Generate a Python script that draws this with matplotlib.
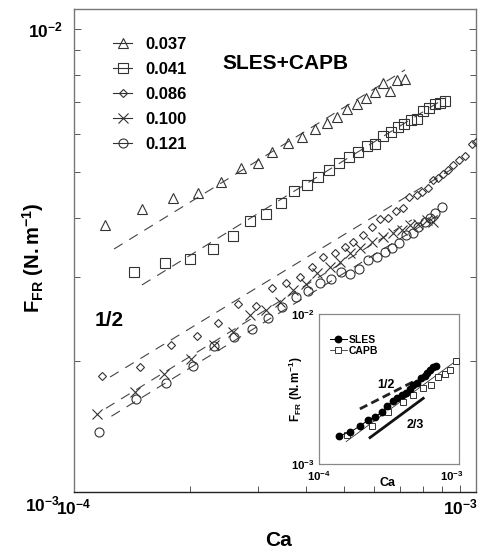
import matplotlib
matplotlib.use('Agg')
import matplotlib.pyplot as plt
from matplotlib.lines import Line2D
import matplotlib.transforms as mtrans

plt.rcParams['font.family'] = ['Liberation Sans', 'DejaVu Sans']
plt.rcParams['font.weight'] = 'bold'
plt.rcParams['mathtext.fontset'] = 'custom'
plt.rcParams['mathtext.rm'] = 'Liberation Sans:bold'
plt.rcParams['mathtext.bf'] = 'Liberation Sans:bold'
plt.rcParams['mathtext.it'] = 'Liberation Sans:bold'
plt.rcParams['mathtext.sf'] = 'Liberation Sans:bold'

# ---------------- data (main plot) ----------------
conc_labels = ['0.037', '0.041', '0.086', '0.100', '0.121']

ca_037 = [1.20e-4, 1.50e-4, 1.805e-4, 2.095e-4, 2.40e-4, 2.71e-4, 3.00e-4, 3.26e-4, 3.59e-4,
          3.90e-4, 4.21e-4, 4.52e-4, 4.80e-4, 5.10e-4, 5.41e-4, 5.71e-4, 6.02e-4, 6.32e-4,
          6.59e-4, 6.87e-4, 7.20e-4]
f_037 = [3.87e-3, 4.18e-3, 4.41e-3, 4.52e-3, 4.76e-3, 5.10e-3, 5.22e-3, 5.51e-3, 5.75e-3,
         5.93e-3, 6.16e-3, 6.34e-3, 6.53e-3, 6.79e-3, 6.95e-3, 7.15e-3, 7.37e-3, 7.70e-3,
         7.40e-3, 7.81e-3, 7.85e-3]

ca_041 = [1.43e-4, 1.72e-4, 2.00e-4, 2.29e-4, 2.58e-4, 2.86e-4, 3.14e-4, 3.44e-4, 3.72e-4,
          4.01e-4, 4.29e-4, 4.58e-4, 4.86e-4, 5.16e-4, 5.44e-4, 5.74e-4, 6.02e-4, 6.32e-4,
          6.63e-4, 6.91e-4, 7.16e-4, 7.47e-4, 7.74e-4, 8.02e-4, 8.31e-4, 8.61e-4, 8.88e-4,
          9.15e-4]
f_041 = [3.08e-3, 3.22e-3, 3.28e-3, 3.44e-3, 3.67e-3, 3.94e-3, 4.08e-3, 4.30e-3, 4.56e-3,
         4.69e-3, 4.88e-3, 5.05e-3, 5.22e-3, 5.38e-3, 5.51e-3, 5.67e-3, 5.73e-3, 5.95e-3,
         6.07e-3, 6.22e-3, 6.31e-3, 6.43e-3, 6.46e-3, 6.72e-3, 6.82e-3, 6.95e-3, 6.99e-3,
         7.05e-3]

ca_086 = [1.18e-4, 1.48e-4, 1.78e-4, 2.08e-4, 2.36e-4, 2.66e-4, 2.96e-4, 3.26e-4, 3.54e-4,
          3.85e-4, 4.14e-4, 4.42e-4, 4.75e-4, 5.04e-4, 5.28e-4, 5.61e-4, 5.92e-4, 6.20e-4,
          6.51e-4, 6.83e-4, 7.12e-4, 7.38e-4, 7.74e-4, 7.97e-4, 8.26e-4, 8.51e-4, 8.77e-4,
          9.03e-4, 9.31e-4, 9.59e-4, 9.94e-4, 1.03e-3, 1.074e-3, 1.10e-3]
f_086 = [1.86e-3, 1.94e-3, 2.16e-3, 2.26e-3, 2.40e-3, 2.64e-3, 2.61e-3, 2.85e-3, 2.92e-3,
         3.01e-3, 3.15e-3, 3.31e-3, 3.38e-3, 3.48e-3, 3.56e-3, 3.68e-3, 3.83e-3, 3.98e-3,
         4.00e-3, 4.14e-3, 4.20e-3, 4.43e-3, 4.47e-3, 4.54e-3, 4.63e-3, 4.81e-3, 4.86e-3,
         4.95e-3, 5.05e-3, 5.17e-3, 5.30e-3, 5.40e-3, 5.73e-3, 5.78e-3]

ca_100 = [1.147e-4, 1.44e-4, 1.71e-4, 2.01e-4, 2.31e-4, 2.58e-4, 2.86e-4, 3.14e-4, 3.42e-4,
          3.69e-4, 3.99e-4, 4.26e-4, 4.60e-4, 4.89e-4, 5.19e-4, 5.51e-4, 5.92e-4, 6.32e-4,
          6.71e-4, 7.07e-4, 7.42e-4, 7.78e-4, 8.21e-4, 8.51e-4]
f_100 = [1.55e-3, 1.72e-3, 1.88e-3, 2.02e-3, 2.16e-3, 2.30e-3, 2.50e-3, 2.56e-3, 2.66e-3,
         2.82e-3, 2.90e-3, 3.06e-3, 3.15e-3, 3.23e-3, 3.38e-3, 3.46e-3, 3.56e-3, 3.65e-3,
         3.72e-3, 3.77e-3, 3.87e-3, 3.89e-3, 3.96e-3, 3.92e-3]

ca_121 = [1.16e-4, 1.45e-4, 1.73e-4, 2.03e-4, 2.31e-4, 2.60e-4, 2.89e-4, 3.18e-4, 3.46e-4,
          3.76e-4, 4.04e-4, 4.34e-4, 4.63e-4, 4.92e-4, 5.19e-4, 5.47e-4, 5.78e-4, 6.10e-4,
          6.39e-4, 6.67e-4, 6.95e-4, 7.24e-4, 7.55e-4, 7.78e-4, 8.12e-4, 8.36e-4, 8.61e-4,
          8.98e-4]
f_121 = [1.42e-3, 1.66e-3, 1.80e-3, 1.95e-3, 2.15e-3, 2.25e-3, 2.34e-3, 2.46e-3, 2.60e-3,
         2.73e-3, 2.80e-3, 2.92e-3, 2.98e-3, 3.08e-3, 3.05e-3, 3.12e-3, 3.26e-3, 3.31e-3,
         3.39e-3, 3.46e-3, 3.54e-3, 3.68e-3, 3.72e-3, 3.83e-3, 3.92e-3, 4.00e-3, 4.10e-3,
         4.22e-3]

# power-law (slope 1/2) fit lines: end points
fit_ca = [[1.27e-4, 7.2e-4], [1.50e-4, 9.2e-4], [1.24e-4, 1.0e-3],
          [1.21e-4, 7.5e-4], [1.25e-4, 9.0e-4]]
fit_f = [[3.44e-3, 8.19e-3], [2.89e-3, 7.16e-3], [1.85e-3, 5.19e-3],
         [1.59e-3, 3.96e-3], [1.53e-3, 4.10e-3]]

# ---------------- data (inset) ----------------
inset_labels = ['SLES', 'CAPB']
sles_ca = [1.41e-4, 1.71e-4, 2.03e-4, 2.34e-4, 2.64e-4, 2.98e-4, 3.25e-4, 3.60e-4, 3.86e-4,
           4.21e-4, 4.51e-4, 4.83e-4, 5.09e-4, 5.46e-4, 5.85e-4, 6.27e-4, 6.49e-4, 6.83e-4,
           7.20e-4, 7.58e-4]
sles_f = [1.54e-3, 1.63e-3, 1.79e-3, 1.96e-3, 2.06e-3, 2.22e-3, 2.44e-3, 2.63e-3, 2.75e-3,
          2.88e-3, 2.97e-3, 3.16e-3, 3.36e-3, 3.47e-3, 3.74e-3, 3.86e-3, 4.04e-3, 4.24e-3,
          4.43e-3, 4.50e-3]
capb_ca = [1.62e-4, 2.50e-4, 3.30e-4, 4.28e-4, 5.09e-4, 6.05e-4, 6.95e-4, 7.85e-4, 8.86e-4,
           9.66e-4, 1.07e-3]
capb_f = [1.56e-3, 1.79e-3, 2.22e-3, 2.59e-3, 2.88e-3, 3.21e-3, 3.36e-3, 3.80e-3, 3.98e-3,
          4.24e-3, 4.86e-3]
capb_fit_ca = [1.60e-4, 1.07e-3]
capb_fit_f = [1.41e-3, 4.86e-3]
slope_half_ca = [2.03e-4, 5.43e-4]
slope_half_f = [2.33e-3, 3.63e-3]
slope_23_ca = [2.42e-4, 6.08e-4]
slope_23_f = [1.50e-3, 2.74e-3]

# ---------------- figure ----------------
W, H = 478, 548
fig = plt.figure(figsize=(W / 100, H / 100), dpi=100)
ax = fig.add_axes([74 / W, (H - 492) / H, 402 / W, 483 / H])
ax.set_xscale('log')
ax.set_yscale('log')
ax.set_xlim(1e-4, 1.10e-3)
ax.set_ylim(1.06e-3, 1.10e-2)

mk_col = '#333333'
markers = ['^', 's', 'D', 'x', 'o']
msizes = [7.2, 6.5, 4.3, 6.8, 6.5]
series_ca = [ca_037, ca_041, ca_086, ca_100, ca_121]
series_f = [f_037, f_041, f_086, f_100, f_121]

for i in range(5):
    ax.plot(fit_ca[i], fit_f[i], color='#444444', lw=0.8, dashes=(9, 7), zorder=2)
    ax.plot(series_ca[i], series_f[i], linestyle='none', marker=markers[i], ms=msizes[i],
            mfc='none', mec=mk_col, mew=0.8, zorder=3)

for side in ['left', 'right', 'top']:
    ax.spines[side].set_color('#777777')
    ax.spines[side].set_linewidth(1.0)
ax.spines['bottom'].set_color('#222222')
ax.spines['bottom'].set_linewidth(1.0)

ax.tick_params(which='both', direction='in', top=False, right=True, color='#555555', width=0.7)
ax.tick_params(which='major', length=5)
ax.tick_params(which='minor', length=4)
ax.tick_params(axis='y', which='both', pad=8, labelsize=12.5)
ax.tick_params(axis='x', which='both', pad=4, labelsize=12.5)
ax.set_xticks([1e-4, 1e-3])
ax.set_xticklabels([r'$\mathbf{10^{-4}}$', r'$\mathbf{10^{-3}}$'])
ax.set_yticks([1e-2])
ax.set_yticklabels([r'$\mathbf{10^{-2}}$'])
ax.xaxis.set_minor_formatter(plt.NullFormatter())
ax.yaxis.set_minor_formatter(plt.NullFormatter())
trans = mtrans.blended_transform_factory(ax.transAxes, ax.transData)
ax.text(-14 / 402, 1e-3, r'$\mathbf{10^{-3}}$', transform=trans, ha='right', va='center',
        fontsize=12.5, clip_on=False)

fig.text(33 / W, 1 - 258 / H, r'$\mathbf{F_{FR}\ (N.m^{-1})}$', rotation=90,
         ha='center', va='center', fontsize=14.5)
fig.text(279 / W, 1 - 540 / H, 'Ca', ha='center', va='center', fontsize=15, fontweight='bold')

ax.text(0.525, 0.888, 'SLES+CAPB', transform=ax.transAxes, ha='center', va='center',
        fontsize=15, fontweight='bold')
ax.text(0.087, 0.356, '1/2', transform=ax.transAxes, ha='center', va='center',
        fontsize=15, fontweight='bold')

handles = [Line2D([], [], color=mk_col, lw=0.8, marker=markers[i], ms=msizes[i],
                  mfc='none', mec=mk_col, mew=0.8) for i in range(5)]
ax.legend(handles, conc_labels, loc='upper left', bbox_to_anchor=(0.097, 0.942),
          frameon=False, borderaxespad=0, borderpad=0, handlelength=1.15,
          handletextpad=0.8, labelspacing=0.6, prop={'size': 12, 'weight': 'bold'})

# ---------------- inset ----------------
ix = fig.add_axes([319 / W, (H - 464) / H, 140 / W, 150 / H])
ix.set_xscale('log')
ix.set_yscale('log')
ix.set_xlim(1e-4, 1.13e-3)
ix.set_ylim(1e-3, 1e-2)
ix.plot(sles_ca, sles_f, color='black', lw=0.7, marker='o', ms=4.6, mfc='black',
        mec='black', zorder=4)
ix.plot(capb_fit_ca, capb_fit_f, color='#333333', lw=0.6, zorder=2)
ix.plot(capb_ca, capb_f, linestyle='none', marker='s', ms=4.4, mfc='white', mec='#333333',
        mew=0.7, zorder=3)
ix.plot(slope_half_ca, slope_half_f, color='#222222', lw=2.0, dashes=(3, 1.6))
ix.plot(slope_23_ca, slope_23_f, color='#111111', lw=2.0)
ix.text(0.475, 0.53, '1/2', transform=ix.transAxes, fontsize=9, fontweight='bold',
        ha='center', va='center')
ix.text(0.685, 0.26, '2/3', transform=ix.transAxes, fontsize=9, fontweight='bold',
        ha='center', va='center')
for side in ix.spines:
    ix.spines[side].set_color('#888888')
    ix.spines[side].set_linewidth(0.9)
ix.minorticks_off()
ix.tick_params(which='both', length=0, labelsize=8.2)
ix.tick_params(axis='x', pad=4)
ix.tick_params(axis='y', pad=3)
ix.set_xticks([1e-4, 1e-3])
ix.set_xticklabels([r'$\mathbf{10^{-4}}$', r'$\mathbf{10^{-3}}$'])
ix.set_yticks([1e-3, 1e-2])
ix.set_yticklabels([r'$\mathbf{10^{-3}}$', r'$\mathbf{10^{-2}}$'])
ix.set_xlabel('Ca', fontsize=9, fontweight='bold')
ix.xaxis.set_label_coords(0.486, -0.087)
ix.set_ylabel(r'$\mathbf{F_{FR}\ (N.m^{-1})}$', fontsize=8.5)
ix.yaxis.set_label_coords(-0.1, 0.5)
ih = [Line2D([], [], color='black', lw=0.7, marker='o', ms=4.6, mfc='black', mec='black'),
      Line2D([], [], color='#333333', lw=0.6, marker='s', ms=4.4, mfc='white', mec='#333333',
             mew=0.7)]
ix.legend(ih, inset_labels, loc='upper left', bbox_to_anchor=(0.079, 0.86), frameon=False,
          borderaxespad=0, borderpad=0, handlelength=1.6, handletextpad=0.2,
          labelspacing=0.05, prop={'size': 7.5, 'weight': 'bold'})

fig.savefig('out.png', dpi=100)
